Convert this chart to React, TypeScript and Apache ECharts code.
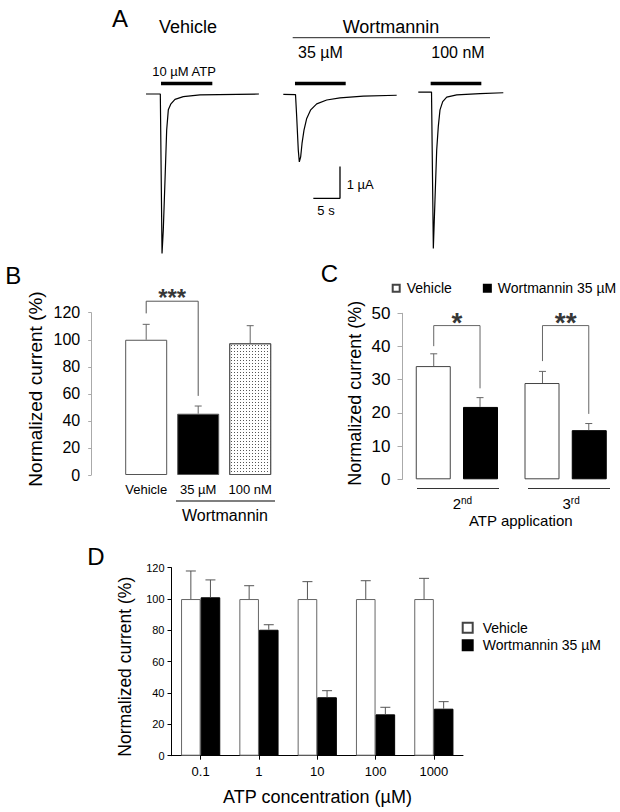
import React, { useEffect, useRef } from "react";
import * as echarts from "echarts";

const FONT = 'Arial, "Liberation Sans", Helvetica, sans-serif';

// ---------- Panel A: current traces [time (s), current (µA)] ----------
const traceVehicle = [
  [1.13, 0], [3.81, 0], [4.13, -5.03], [4.37, -4.29], [4.69, -2.71], [5.0, -1.14],
  [5.31, -0.5], [5.76, -0.32], [6.56, -0.17], [8.12, -0.085], [11.25, -0.03], [22.3, 0],
];
const trace35uM = [
  [26.87, -0.01], [29.16, -0.02], [29.38, -0.72], [29.68, -1.77], [29.87, -2.14],
  [30.13, -1.98], [30.38, -1.56], [30.75, -1.14], [31.26, -0.77], [32.01, -0.5],
  [33.13, -0.31], [35.01, -0.19], [37.5, -0.12], [41.87, -0.07], [48.13, -0.04],
];
const trace100nM = [
  [52.18, 0.06], [54.66, 0.06], [55.0, -4.87], [55.31, -3.34], [55.63, -1.77],
  [55.93, -1.03], [56.25, -0.5], [56.76, -0.24], [57.51, -0.1], [59.38, -0.03],
  [63.75, 0.01], [68.12, 0.04],
];
const atpBars = [[3.94, 13.56], [29.06, 38.57], [54.5, 64.0]];
const atpBarLevel = 0.33;
const scaleBarTime = [32.5, 37.5]; // 5 s
const scaleBarCurrent = [-3.29, -2.29]; // 1 µA

// ---------- Panel B ----------
const bCategories = ["Vehicle", "35 µM", "100 nM"];
const bMeans = [100, 45.3, 97.4];
const bErrTops = [111.4, 51.0, 110.4];
const bBracket = [119.5, 128.5, 58.5]; // left start, top, right end
const bStars = "***";

// ---------- Panel C ----------
const cCategories = ["2nd", "3rd"];
const cVehicle = [34.1, 29.0];
const cVehicleErr = [37.8, 32.5];
const cWort = [21.8, 14.8];
const cWortErr = [24.6, 16.8];
const cBracketLeft = [40.1, 35.6];
const cBracketTop = [46.3, 46.3];
const cBracketRight = [27.4, 19.7];
const cStars = ["*", "**"];

// ---------- Panel D ----------
const dCategories = ["0.1", "1", "10", "100", "1000"];
const dVehicle = [100, 100, 100, 100, 100];
const dVehicleErr = [117.9, 108.5, 111.1, 111.7, 113.2];
const dWort = [101.1, 80.4, 37.3, 26.4, 30.0];
const dWortErr = [112.2, 83.6, 41.5, 30.9, 34.5];

const seriesNames = ["Vehicle", "Wortmannin 35 µM"];

function errorBars(offset: number, capW: number, color: string) {
  return (params: any, api: any) => {
    const x = api.value(0) + offset;
    const lo = api.coord([x, api.value(1)]);
    const hi = api.coord([x, api.value(2)]);
    return {
      type: "group",
      children: [
        { type: "line", shape: { x1: lo[0], y1: lo[1], x2: hi[0], y2: hi[1] }, style: { stroke: color, lineWidth: 1 } },
        { type: "line", shape: { x1: hi[0] - capW / 2, y1: hi[1], x2: hi[0] + capW / 2, y2: hi[1] }, style: { stroke: color, lineWidth: 1 } },
      ],
    };
  };
}

function txt(text: string, x: number, y: number, size: number, extra: any = {}) {
  return {
    type: "text",
    x,
    y,
    silent: true,
    ...extra,
    style: {
      text,
      fontSize: size,
      fontFamily: FONT,
      fill: "#000",
      textAlign: extra.align || "center",
      textVerticalAlign: "middle",
      align: extra.align || "center",
      verticalAlign: "middle",
    },
  };
}

function hline(x1: number, x2: number, y: number, color = "#222", w = 1) {
  return { type: "line", silent: true, shape: { x1, y1: y, x2, y2: y }, style: { stroke: color, lineWidth: w } };
}

export default function App() {
  const ref = useRef<HTMLDivElement>(null);

  useEffect(() => {
    document.body.style.margin = "0";
    if (!ref.current) return;
    const chart = echarts.init(ref.current, undefined, { renderer: "svg" });

    // bar geometry (px)
    const cCat = 222 / 2;
    const cBarW = 35;
    const cOff = (cBarW * 1.35) / 2 / cCat;
    const dCat = 291.5 / 5;
    const dBarW = 19.6;
    const dOff = dBarW / 2 / dCat;

    const axisText = { color: "#000", fontFamily: FONT };
    const noZero = { onZero: false };

    const series: any[] = [];

    // Panel A traces
    [traceVehicle, trace35uM, trace100nM].forEach((tr) =>
      series.push({
        type: "line", xAxisIndex: 0, yAxisIndex: 0, data: tr, symbol: "none", silent: true, clip: false,
        lineStyle: { color: "#000", width: 1.2 },
      })
    );
    atpBars.forEach(([s, e]) =>
      series.push({
        type: "line", xAxisIndex: 0, yAxisIndex: 0, data: [[s, atpBarLevel], [e, atpBarLevel]], symbol: "none", silent: true, clip: false,
        lineStyle: { color: "#000", width: 3.5, cap: "butt" },
      })
    );
    series.push({
      type: "line", xAxisIndex: 0, yAxisIndex: 0, symbol: "none", silent: true, clip: false,
      data: [[scaleBarTime[0], scaleBarCurrent[0]], [scaleBarTime[1], scaleBarCurrent[0]], [scaleBarTime[1], scaleBarCurrent[1]]],
      lineStyle: { color: "#000", width: 1.3 },
    });

    // Panel B
    series.push({
      type: "bar", name: "B", xAxisIndex: 1, yAxisIndex: 1, barWidth: 42, silent: true,
      itemStyle: { borderColor: "#555", borderWidth: 1 },
      data: bMeans.map((v, i) => ({
        value: v,
        itemStyle:
          i === 0 ? { color: "#fff" }
          : i === 1 ? { color: "#000" }
          : {
              color: "#fff",
              decal: { symbol: "rect", symbolSize: 1, color: "#555", backgroundColor: "#fff", dashArrayX: [1, 2], dashArrayY: [1, 2], rotation: 0 },
            },
      })),
    });
    series.push({
      type: "custom", xAxisIndex: 2, yAxisIndex: 1, silent: true, z: 5, clip: false,
      renderItem: errorBars(0, 7, "#666"),
      data: bMeans.map((v, i) => [i, v, bErrTops[i]]),
    });
    series.push({
      type: "line", xAxisIndex: 2, yAxisIndex: 1, symbol: "none", silent: true, clip: false,
      data: [[0, bBracket[0]], [0, bBracket[1]], [1, bBracket[1]], [1, bBracket[2]]],
      lineStyle: { color: "#555", width: 1 },
    });
    series.push({
      type: "scatter", xAxisIndex: 2, yAxisIndex: 1, symbolSize: 0, silent: true, clip: false,
      data: [[0.5, bBracket[1]]],
      label: { show: true, position: "inside", offset: [0, -4], formatter: bStars, fontSize: 24, fontWeight: "bold", color: "#000", fontFamily: FONT },
    });

    // Panel C
    series.push({
      type: "bar", name: seriesNames[0], xAxisIndex: 3, yAxisIndex: 2, barWidth: cBarW, barGap: "35%", silent: true,
      itemStyle: { color: "#fff", borderColor: "#444", borderWidth: 1 }, data: cVehicle,
    });
    series.push({
      type: "bar", name: seriesNames[1], xAxisIndex: 3, yAxisIndex: 2, barWidth: cBarW, barGap: "35%", silent: true,
      itemStyle: { color: "#000", borderColor: "#000", borderWidth: 1 }, data: cWort,
    });
    series.push({
      type: "custom", xAxisIndex: 4, yAxisIndex: 2, silent: true, z: 5, clip: false,
      renderItem: errorBars(-cOff, 7, "#666"),
      data: cVehicle.map((v, i) => [i, v, cVehicleErr[i]]),
    });
    series.push({
      type: "custom", xAxisIndex: 4, yAxisIndex: 2, silent: true, z: 5, clip: false,
      renderItem: errorBars(cOff, 7, "#666"),
      data: cWort.map((v, i) => [i, v, cWortErr[i]]),
    });
    cCategories.forEach((_, i) => {
      series.push({
        type: "line", xAxisIndex: 4, yAxisIndex: 2, symbol: "none", silent: true, clip: false,
        data: [[i - cOff, cBracketLeft[i]], [i - cOff, cBracketTop[i]], [i + cOff, cBracketTop[i]], [i + cOff, cBracketRight[i]]],
        lineStyle: { color: "#666", width: 1 },
      });
      series.push({
        type: "scatter", xAxisIndex: 4, yAxisIndex: 2, symbolSize: 0, silent: true, clip: false,
        data: [[i, cBracketTop[i]]],
        label: { show: true, position: "inside", offset: [0, -3], formatter: cStars[i], fontSize: 28, fontWeight: "bold", color: "#000", fontFamily: FONT },
      });
    });

    // Panel D
    series.push({
      type: "bar", name: seriesNames[0], xAxisIndex: 5, yAxisIndex: 3, barWidth: dBarW, barGap: "0%", silent: true,
      itemStyle: { color: "#fff", borderColor: "#666", borderWidth: 1 }, data: dVehicle,
    });
    series.push({
      type: "bar", name: seriesNames[1], xAxisIndex: 5, yAxisIndex: 3, barWidth: dBarW, barGap: "0%", silent: true,
      itemStyle: { color: "#000", borderColor: "#000", borderWidth: 1 }, data: dWort,
    });
    series.push({
      type: "custom", xAxisIndex: 6, yAxisIndex: 3, silent: true, z: 5, clip: false,
      renderItem: errorBars(-dOff, 10, "#555"),
      data: dVehicle.map((v, i) => [i, v, dVehicleErr[i]]),
    });
    series.push({
      type: "custom", xAxisIndex: 6, yAxisIndex: 3, silent: true, z: 5, clip: false,
      renderItem: errorBars(dOff, 10, "#555"),
      data: dWort.map((v, i) => [i, v, dWortErr[i]]),
    });

    const hidden = { show: false, axisLine: { show: false, onZero: false }, splitLine: { show: false } };

    const option: any = {
      animation: false,
      backgroundColor: "#fff",
      textStyle: { fontFamily: FONT },
      grid: [
        { left: 140, top: 78.15, width: 373.33, height: 190.2 },
        { left: 120.2, top: 312.7, width: 156, height: 162.3 },
        { left: 402.5, top: 313.3, width: 222, height: 166 },
        { left: 171.5, top: 567.7, width: 291.5, height: 188 },
      ],
      xAxis: [
        { type: "value", gridIndex: 0, min: 0, max: 70, ...hidden },
        {
          type: "category", gridIndex: 1, data: bCategories,
          axisLine: { show: false, ...noZero }, axisTick: { show: false },
          axisLabel: { ...axisText, fontSize: 13, margin: 8, interval: 0 },
        },
        { type: "value", gridIndex: 1, min: -0.5, max: 2.5, ...hidden },
        {
          type: "category", gridIndex: 2, data: cCategories,
          axisLine: { show: false, ...noZero }, axisTick: { show: false },
          axisLabel: {
            margin: 16,
            interval: 0,
            padding: [0, 0, 0, 11],
            formatter: (v: string) => `{n|${v.slice(0, 1)}}{s|${v.slice(1)}}`,
            rich: {
              n: { fontSize: 15, color: "#000", fontFamily: FONT, lineHeight: 17 },
              s: { fontSize: 10, color: "#000", fontFamily: FONT, verticalAlign: "top" },
            },
          },
        },
        { type: "value", gridIndex: 2, min: -0.5, max: 1.5, ...hidden },
        {
          type: "category", gridIndex: 3, data: dCategories,
          axisLine: { show: true, ...noZero, lineStyle: { color: "#000", width: 1 } },
          axisTick: { show: true, alignWithLabel: true, length: 4, lineStyle: { color: "#000" } },
          axisLabel: { ...axisText, fontSize: 13, margin: 9, interval: 0 },
        },
        { type: "value", gridIndex: 3, min: -0.5, max: 4.5, ...hidden },
      ],
      yAxis: [
        { type: "value", gridIndex: 0, min: -5.5, max: 0.5, ...hidden },
        {
          type: "value", gridIndex: 1, min: 0, max: 120, interval: 20, offset: 29,
          axisLine: { show: true, ...noZero, lineStyle: { color: "#aaa" } },
          axisTick: { show: true, length: 3, lineStyle: { color: "#aaa" } },
          axisLabel: { ...axisText, fontSize: 16, margin: 11 },
          splitLine: { show: false },
        },
        {
          type: "value", gridIndex: 2, min: 0, max: 50, interval: 10,
          axisLine: { show: true, ...noZero, lineStyle: { color: "#aaa" } },
          axisTick: { show: true, length: 5, lineStyle: { color: "#aaa" } },
          axisLabel: { ...axisText, fontSize: 17, margin: 12 },
          splitLine: { show: false },
        },
        {
          type: "value", gridIndex: 3, min: 0, max: 120, interval: 20,
          axisLine: { show: true, ...noZero, lineStyle: { color: "#000" } },
          axisTick: { show: true, length: 4, lineStyle: { color: "#000" } },
          axisLabel: { ...axisText, fontSize: 11, margin: 7 },
          splitLine: { show: false },
        },
      ],
      legend: [
        {
          data: seriesNames, left: 391.7, top: 281.3, width: 300, padding: 0, orient: "horizontal", selectedMode: false,
          icon: "rect", itemWidth: 7, itemHeight: 7, itemGap: 31,
          textStyle: { fontSize: 14, color: "#000", fontFamily: FONT, padding: [0, 0, 0, 2] },
        },
        {
          data: seriesNames, left: 461.7, top: 620.8, padding: 0, orient: "vertical", selectedMode: false,
          icon: "rect", itemWidth: 10, itemHeight: 10, itemGap: 3.4,
          textStyle: { fontSize: 14, color: "#000", fontFamily: FONT, padding: [0, 0, 0, 5] },
        },
      ],
      graphic: [
        // Panel A
        txt("A", 120, 18, 24),
        txt("Vehicle", 188, 27, 18),
        txt("Wortmannin", 391, 27, 18),
        hline(292.7, 490, 37.7, "#222", 1),
        txt("35 µM", 320.5, 52, 16),
        txt("100 nM", 458, 52, 16),
        txt("10 µM ATP", 184, 71, 13),
        txt("1 µA", 346.7, 184, 13, { align: "left" }),
        txt("5 s", 326, 210.7, 13),
        // Panel B
        txt("B", 13.3, 275, 24),
        txt("Normalized current (%)", 35, 389, 19, { rotation: Math.PI / 2 }),
        hline(176, 275, 501, "#555", 1.5),
        txt("Wortmannin", 225, 515, 16),
        // Panel C
        txt("C", 329.5, 273, 24),
        txt("Normalized current (%)", 355, 393.3, 18, { rotation: Math.PI / 2 }),
        hline(417, 499, 488.5, "#333", 1.2),
        hline(528, 610, 488.5, "#333", 1.2),
        txt("ATP application", 520.8, 520.7, 15),
        // Panel D
        txt("D", 96, 556.7, 24),
        txt("Normalized current (%)", 125, 666.7, 17.5, { rotation: Math.PI / 2 }),
        txt("ATP concentration (µM)", 317.5, 796.7, 18),
      ],
      series,
    };

    chart.setOption(option);
    return () => chart.dispose();
  }, []);

  return <div ref={ref} style={{ width: 620, height: 812 }} />;
}
